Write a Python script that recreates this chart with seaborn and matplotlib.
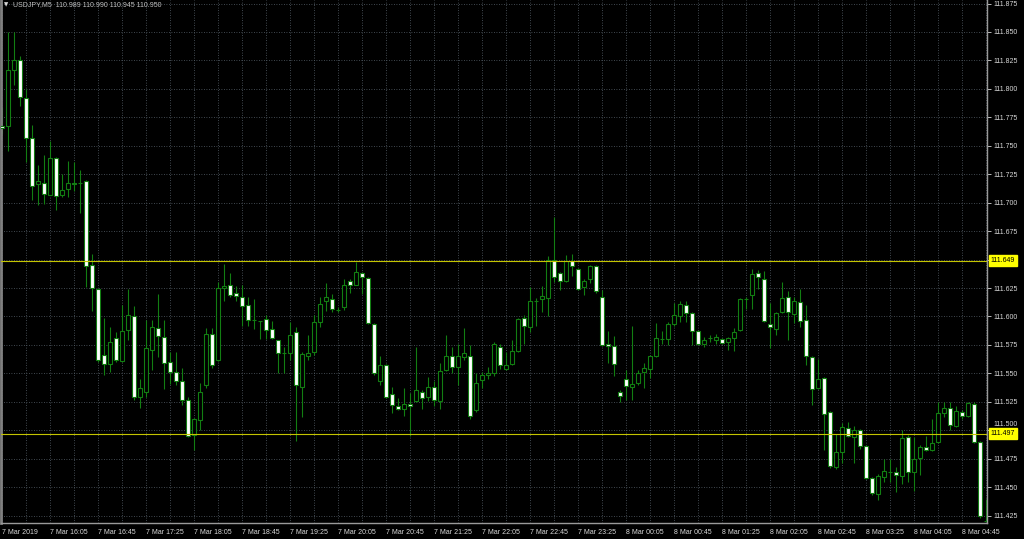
import numpy as np
import pandas as pd
import seaborn as sns
import matplotlib.pyplot as plt
from matplotlib import transforms

# MT4-like look: black background, dotted grid
sns.set_theme(style="dark")
plt.rcParams['font.family'] = ['Liberation Sans', 'DejaVu Sans']

# USDJPY M5 candles, 7 Mar 15:25 -> 8 Mar 05:05
opens = [
    111.767, 111.767, 111.817, 111.825, 111.792, 111.757, 111.716, 111.717, 111.707, 111.739,
    111.707, 111.712, 111.717, 111.717, 111.719, 111.645, 111.624, 111.566, 111.558, 111.581,
    111.561, 111.588, 111.600, 111.529, 111.534, 111.571, 111.590, 111.582, 111.560, 111.551,
    111.543, 111.527, 111.496, 111.509, 111.540, 111.585, 111.562, 111.625, 111.628, 111.621,
    111.617, 111.610, 111.597, 111.596, 111.598, 111.589, 111.579, 111.568, 111.568, 111.586,
    111.538, 111.565, 111.569, 111.595, 111.614, 111.615, 111.606, 111.608, 111.631, 111.628,
    111.638, 111.634, 111.593, 111.543, 111.557, 111.532, 111.521, 111.519, 111.523, 111.526,
    111.534, 111.529, 111.538, 111.526, 111.553, 111.565, 111.556, 111.564, 111.565, 111.518,
    111.544, 111.549, 111.550, 111.573, 111.554, 111.558, 111.570, 111.599, 111.591, 111.614,
    111.615, 111.616, 111.650, 111.638, 111.631, 111.649, 111.642, 111.626, 111.633, 111.644,
    111.617, 111.576, 111.574, 111.534, 111.545, 111.538, 111.542, 111.551, 111.554, 111.565,
    111.580, 111.580, 111.593, 111.600, 111.610, 111.603, 111.587, 111.576, 111.581, 111.579,
    111.580, 111.578, 111.581, 111.588, 111.615, 111.619, 111.638, 111.633, 111.593, 111.589,
    111.604, 111.617, 111.602, 111.613, 111.597, 111.564, 111.537, 111.546, 111.516, 111.468,
    111.481, 111.502, 111.494, 111.500, 111.486, 111.458, 111.444, 111.459, 111.463, 111.463,
    111.460, 111.494, 111.463, 111.476, 111.485, 111.483, 111.490, 111.515, 111.520, 111.504,
    111.516, 111.513, 111.523, 111.490, 111.420,
]
highs = [
    111.784, 111.850, 111.850, 111.829, 111.800, 111.768, 111.733, 111.742, 111.754, 111.740,
    111.725, 111.737, 111.736, 111.729, 111.720, 111.655, 111.625, 111.599, 111.591, 111.586,
    111.610, 111.624, 111.609, 111.545, 111.597, 111.597, 111.620, 111.597, 111.569, 111.569,
    111.555, 111.529, 111.511, 111.542, 111.590, 111.590, 111.630, 111.646, 111.638, 111.627,
    111.628, 111.617, 111.615, 111.596, 111.601, 111.596, 111.579, 111.573, 111.595, 111.591,
    111.569, 111.584, 111.601, 111.617, 111.629, 111.620, 111.608, 111.633, 111.633, 111.648,
    111.639, 111.635, 111.594, 111.565, 111.558, 111.538, 111.528, 111.537, 111.533, 111.573,
    111.535, 111.547, 111.543, 111.559, 111.584, 111.573, 111.576, 111.590, 111.575, 111.550,
    111.551, 111.556, 111.578, 111.576, 111.569, 111.579, 111.599, 111.601, 111.626, 111.616,
    111.627, 111.653, 111.687, 111.639, 111.654, 111.655, 111.643, 111.633, 111.645, 111.645,
    111.623, 111.587, 111.583, 111.535, 111.553, 111.592, 111.553, 111.559, 111.566, 111.594,
    111.587, 111.595, 111.612, 111.614, 111.614, 111.604, 111.588, 111.582, 111.584, 111.585,
    111.581, 111.582, 111.590, 111.616, 111.617, 111.642, 111.641, 111.640, 111.612, 111.604,
    111.630, 111.622, 111.617, 111.624, 111.610, 111.565, 111.563, 111.547, 111.517, 111.497,
    111.506, 111.507, 111.504, 111.501, 111.487, 111.459, 111.462, 111.475, 111.475, 111.468,
    111.500, 111.496, 111.494, 111.487, 111.495, 111.510, 111.525, 111.525, 111.525, 111.521,
    111.518, 111.525, 111.525, 111.491, 111.440,
]
lows = [
    111.760, 111.745, 111.803, 111.785, 111.736, 111.702, 111.698, 111.699, 111.707, 111.694,
    111.705, 111.705, 111.710, 111.691, 111.626, 111.605, 111.560, 111.549, 111.551, 111.560,
    111.560, 111.579, 111.527, 111.520, 111.529, 111.553, 111.564, 111.536, 111.541, 111.540,
    111.522, 111.494, 111.483, 111.500, 111.537, 111.555, 111.561, 111.614, 111.617, 111.614,
    111.592, 111.592, 111.589, 111.580, 111.580, 111.580, 111.550, 111.550, 111.562, 111.491,
    111.512, 111.562, 111.566, 111.591, 111.605, 111.604, 111.604, 111.606, 111.621, 111.628,
    111.620, 111.593, 111.549, 111.540, 111.528, 111.515, 111.518, 111.513, 111.495, 111.525,
    111.519, 111.526, 111.521, 111.519, 111.552, 111.550, 111.540, 111.562, 111.510, 111.516,
    111.537, 111.545, 111.548, 111.554, 111.553, 111.557, 111.569, 111.576, 111.586, 111.592,
    111.604, 111.600, 111.630, 111.623, 111.630, 111.636, 111.623, 111.619, 111.629, 111.621,
    111.574, 111.559, 111.548, 111.525, 111.527, 111.527, 111.540, 111.537, 111.546, 111.564,
    111.576, 111.575, 111.592, 111.595, 111.595, 111.575, 111.575, 111.573, 111.578, 111.576,
    111.576, 111.571, 111.570, 111.587, 111.607, 111.607, 111.624, 111.595, 111.572, 111.584,
    111.603, 111.579, 111.594, 111.591, 111.557, 111.522, 111.536, 111.483, 111.467, 111.466,
    111.471, 111.494, 111.471, 111.484, 111.457, 111.443, 111.439, 111.455, 111.455, 111.446,
    111.453, 111.455, 111.447, 111.461, 111.482, 111.482, 111.489, 111.512, 111.500, 111.503,
    111.510, 111.512, 111.489, 111.423, 111.420,
]
closes = [
    111.766, 111.817, 111.825, 111.793, 111.757, 111.715, 111.719, 111.708, 111.739, 111.706,
    111.711, 111.717, 111.716, 111.717, 111.644, 111.625, 111.562, 111.558, 111.578, 111.562,
    111.587, 111.601, 111.529, 111.537, 111.572, 111.591, 111.583, 111.559, 111.551, 111.543,
    111.527, 111.495, 111.510, 111.534, 111.585, 111.557, 111.625, 111.627, 111.619, 111.618,
    111.609, 111.597, 111.597, 111.596, 111.588, 111.581, 111.568, 111.568, 111.584, 111.540,
    111.567, 111.568, 111.595, 111.611, 111.617, 111.607, 111.606, 111.628, 111.628, 111.639,
    111.635, 111.594, 111.550, 111.557, 111.529, 111.522, 111.519, 111.523, 111.521, 111.535,
    111.528, 111.538, 111.527, 111.552, 111.565, 111.556, 111.565, 111.568, 111.513, 111.542,
    111.549, 111.550, 111.576, 111.557, 111.557, 111.570, 111.598, 111.592, 111.614, 111.614,
    111.618, 111.650, 111.635, 111.631, 111.649, 111.644, 111.624, 111.631, 111.644, 111.622,
    111.575, 111.574, 111.558, 111.530, 111.539, 111.541, 111.550, 111.555, 111.565, 111.581,
    111.580, 111.593, 111.601, 111.611, 111.603, 111.587, 111.576, 111.579, 111.581, 111.582,
    111.577, 111.581, 111.586, 111.615, 111.615, 111.637, 111.635, 111.596, 111.591, 111.603,
    111.616, 111.604, 111.614, 111.596, 111.565, 111.536, 111.545, 111.514, 111.469, 111.481,
    111.503, 111.495, 111.500, 111.486, 111.458, 111.445, 111.460, 111.464, 111.463, 111.461,
    111.493, 111.463, 111.475, 111.485, 111.483, 111.489, 111.515, 111.520, 111.505, 111.517,
    111.513, 111.524, 111.490, 111.425, 111.420,
]

x_labels = [
    "7 Mar 2019", "7 Mar 16:05", "7 Mar 16:45", "7 Mar 17:25", "7 Mar 18:05", "7 Mar 18:45",
    "7 Mar 19:25", "7 Mar 20:05", "7 Mar 20:45", "7 Mar 21:25", "7 Mar 22:05", "7 Mar 22:45",
    "7 Mar 23:25", "8 Mar 00:05", "8 Mar 00:45", "8 Mar 01:25", "8 Mar 02:05", "8 Mar 02:45",
    "8 Mar 03:25", "8 Mar 04:05", "8 Mar 04:45",
]
y_labels = ["111.425", "111.450", "111.475", "111.500", "111.525", "111.550", "111.575",
            "111.600", "111.625", "111.650", "111.675", "111.700", "111.725", "111.750",
            "111.775", "111.800", "111.825", "111.850", "111.875"]
levels = [111.649, 111.497]
header = "USDJPY,M5  110.989 110.990 110.945 110.950"

df = pd.DataFrame({"open": opens, "high": highs, "low": lows, "close": closes})
df["bar"] = np.arange(len(df))
df["bottom"] = df[["open", "close"]].min(axis=1)
df["height"] = (df["close"] - df["open"]).abs()
df["face"] = np.where(df["close"] > df["open"], "black", "white")

green = "#127e12"
grid_c = "#56606a"
text_c = "#d8d8d8"

fig = plt.figure(figsize=(10.24, 5.39), dpi=100, facecolor="black")
ax = fig.add_axes([1 / 1024, 16 / 539, 986 / 1024, 523 / 539])
ax.set_facecolor("black")

# wicks + bodies
ax.vlines(df["bar"], df["low"], df["high"], color=green, linewidth=0.8, zorder=2)
ax.bar(df["bar"], df["height"], bottom=df["bottom"], width=0.6,
       color=df["face"], edgecolor=green, linewidth=0.8, zorder=3)

right_y = transforms.blended_transform_factory(ax.transAxes, ax.transData)

# horizontal levels with price tags on the axis
for lv in levels:
    ax.axhline(lv, color="#c4c400", linewidth=0.8, zorder=4)
    ax.text(1.004, lv, f"{lv:.3f}", transform=right_y,
            ha="left", va="center", fontsize=5, color="black", zorder=5, clip_on=False,
            bbox=dict(boxstyle="square,pad=0.3", fc="#ffff00", ec="#ffff00"))

ax.set_xlim(-1 / 6, -1 / 6 + 986 / 6)
ax.set_ylim(111.850 - 491 / 1138, 111.850 + 32 / 1138)

ax.set_xticks(np.arange(0, 8 * len(x_labels), 8))
ax.set_xticklabels(x_labels, ha="left")
ax.set_xticks(np.arange(4, len(df) + 4, 8), minor=True)
ax.set_yticks([float(v) for v in y_labels])
ax.set_yticklabels(y_labels)
ax.yaxis.tick_right()

# 111.650 is hidden under the 111.649 tag; 111.500 peeks out just above its tag
for lbl in ax.get_yticklabels():
    if lbl.get_text() in ("111.650", "111.500"):
        lbl.set_visible(False)
ax.text(1.0, 111.500, "111.500", color=text_c, fontsize=5, ha="left", va="center", clip_on=False,
        transform=right_y + transforms.ScaledTranslation(4.5 / 72, 6 / 100, fig.dpi_scale_trans))

ax.grid(True, which="both", color=grid_c, linestyle=(0, (1, 2)), linewidth=0.6, zorder=0)
ax.tick_params(axis="x", which="major", colors=text_c, labelsize=5, length=3, width=0.6, pad=1)
ax.tick_params(axis="x", which="minor", length=0)
ax.tick_params(axis="y", colors=text_c, labelsize=5, length=3, width=0.6, pad=1.5)

for side, lw, col in [("left", 2, "#808080"), ("bottom", 1, "#9a9a9a"), ("right", 1, "#9a9a9a")]:
    ax.spines[side].set_visible(True)
    ax.spines[side].set_color(col)
    ax.spines[side].set_linewidth(lw)
ax.spines["top"].set_visible(False)

fig.text(4 / 1024, 1 - 5 / 539, "▼", color=text_c, fontsize=4, va="center", family="DejaVu Sans")
fig.text(13 / 1024, 1 - 5 / 539, header, color="#c0c0c0", fontsize=5, va="center")

fig.savefig("out.png", dpi=100, facecolor="black")
